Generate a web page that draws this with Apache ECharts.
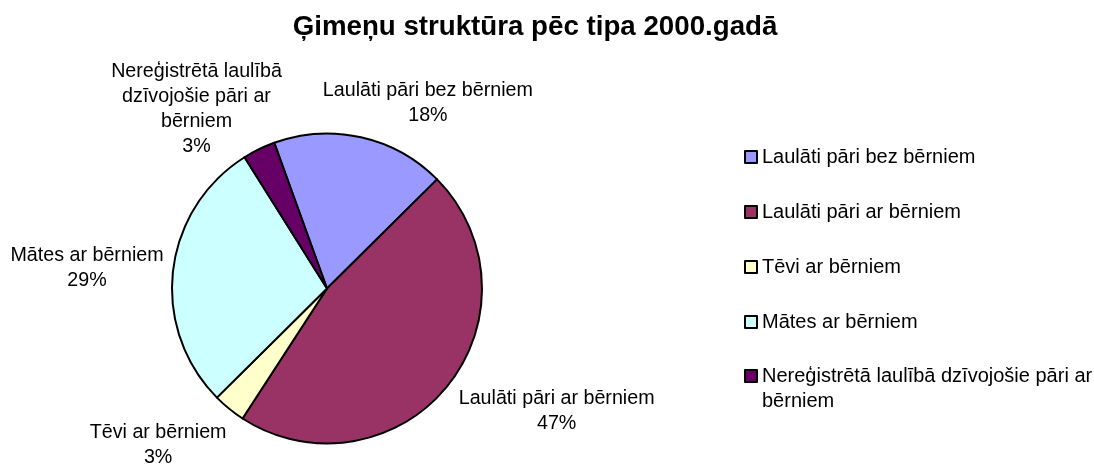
<!DOCTYPE html>
<html>
<head>
<meta charset="utf-8">
<script src="https://cdn.jsdelivr.net/npm/echarts@6/dist/echarts.min.js"></script>
<style>
html,body{margin:0;padding:0;background:#fff;}
#chart{width:1094px;height:465px;}
</style>
</head>
<body>
<div id="chart"></div>
<script>
const title = 'Ģimeņu struktūra pēc tipa 2000.gadā';
const categories = [
  'Laulāti pāri bez bērniem',
  'Laulāti pāri ar bērniem',
  'Tēvi ar bērniem',
  'Mātes ar bērniem',
  'Nereģistrētā laulībā dzīvojošie pāri ar bērniem'
];
const values = [18.1, 46.6, 3.4, 28.5, 3.4];
const colors = ['#9999FF', '#993366', '#FFFFCC', '#CCFFFF', '#660066'];
const labelTexts = [
  'Laulāti pāri bez bērniem',
  'Laulāti pāri ar bērniem',
  'Tēvi ar bērniem',
  'Mātes ar bērniem',
  'Nereģistrētā laulībā\ndzīvojošie pāri ar\nbērniem'
];
const legendTexts = [
  'Laulāti pāri bez bērniem',
  'Laulāti pāri ar bērniem',
  'Tēvi ar bērniem',
  'Mātes ar bērniem',
  'Nereģistrētā laulībā dzīvojošie pāri ar\nbērniem'
];
// label placement around the pie: direction (degrees clockwise from 12 o'clock) and distance (× radius)
const labelAngle = [28.6, 118.0, 227.2, 274.9, 323.9];
const labelDist = [1.36, 1.678, 1.485, 1.554, 1.429];

const font = '"Liberation Sans", Arial, sans-serif';
const pieCenter = [327, 288.5];
const pieRadius = 155;

const legendCommon = {
  orient: 'vertical',
  left: 744,
  padding: 0,
  itemWidth: 12,
  itemHeight: 12,
  itemGap: 33,
  icon: 'rect',
  itemStyle: {borderColor: '#000', borderWidth: 2}
};

const chart = echarts.init(document.getElementById('chart'), null, {renderer: 'canvas'});
chart.setOption({
  animation: false,
  backgroundColor: '#ffffff',
  title: {
    text: title,
    left: 530,
    textAlign: 'center',
    top: 8,
    textStyle: {fontFamily: font, fontSize: 27.7, fontWeight: 'bold', color: '#000'}
  },
  legend: [
    Object.assign({}, legendCommon, {
      top: 146,
      textStyle: {fontFamily: font, fontSize: 20, color: '#000', lineHeight: 22},
      formatter: function (name) { return legendTexts[categories.indexOf(name)]; },
      data: categories.slice(0, 4)
    }),
    Object.assign({}, legendCommon, {
      top: 338.5,
      textStyle: {fontFamily: font, fontSize: 20, color: '#000', lineHeight: 25},
      // a leading empty line keeps the marker level with the first text line
      formatter: function (name) { return '\u00a0\n' + legendTexts[categories.indexOf(name)]; },
      data: categories.slice(4)
    })
  ],
  series: [{
    type: 'pie',
    center: pieCenter,
    radius: pieRadius,
    startAngle: 109.9,
    clockwise: true,
    percentPrecision: 0,
    itemStyle: {borderColor: '#000', borderWidth: 2},
    label: {
      show: true,
      position: 'outside',
      overflow: 'none',
      fontFamily: font,
      fontSize: 19.7,
      lineHeight: 25,
      color: '#000',
      formatter: function (p) { return labelTexts[p.dataIndex] + '\n' + Math.round(p.percent) + '%'; }
    },
    labelLine: {show: false},
    labelLayout: function (p) {
      const a = labelAngle[p.dataIndex] * Math.PI / 180;
      const d = labelDist[p.dataIndex] * pieRadius;
      return {
        x: pieCenter[0] + d * Math.sin(a),
        y: pieCenter[1] - d * Math.cos(a),
        align: 'center',
        verticalAlign: 'middle'
      };
    },
    data: categories.map((c, i) => ({name: c, value: values[i], itemStyle: {color: colors[i]}}))
  }]
});
</script>
</body>
</html>
